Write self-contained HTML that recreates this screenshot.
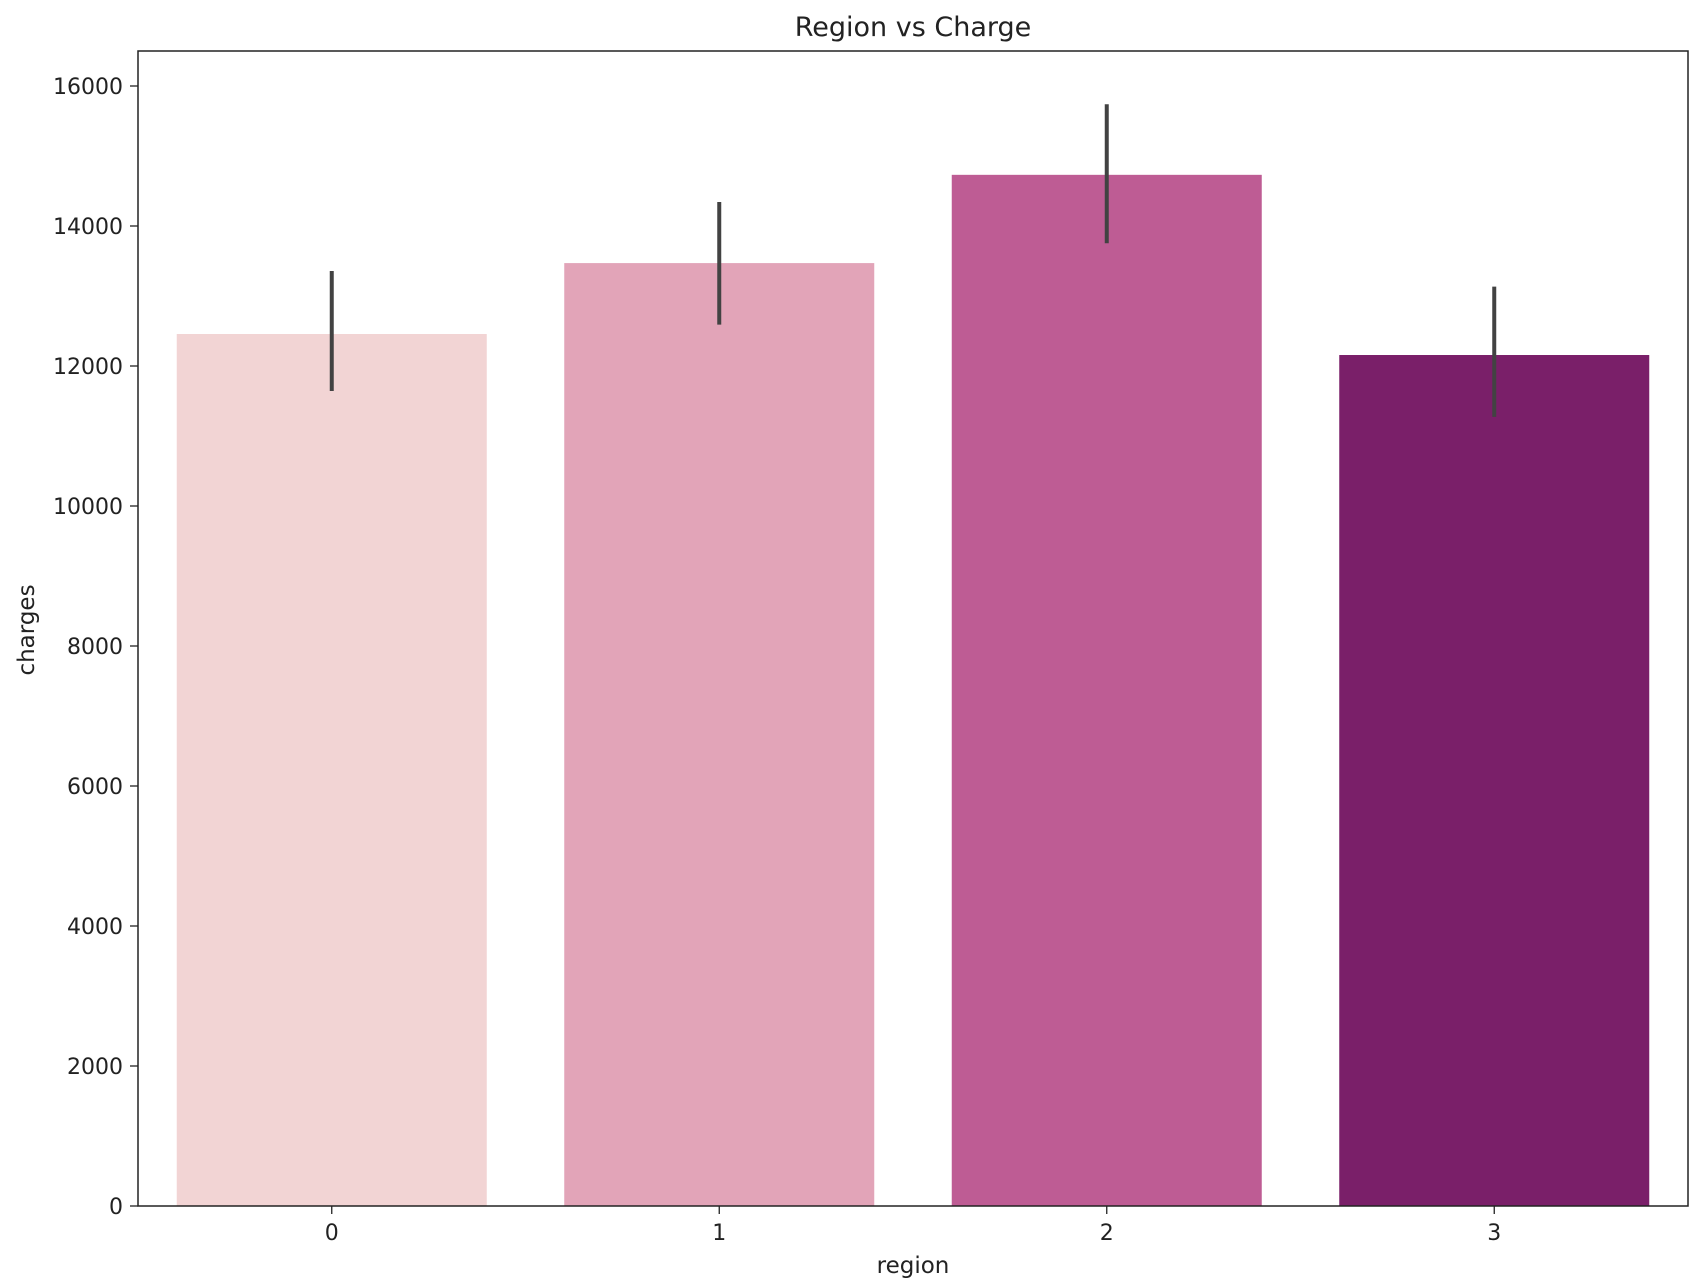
<!DOCTYPE html>
<html><head><meta charset="utf-8"><style>
body{margin:0;background:#fff}
svg{display:block;font-family:"DejaVu Sans","Liberation Sans",sans-serif}
</style></head><body>
<svg id="chart" width="1702" height="1286">
<text x="913" y="36" font-size="27" text-anchor="middle" fill="#222">Region vs Charge</text>
<g id="bars"></g>
<g id="yticks"></g>
<g id="xticks"></g>
<rect x="138" y="51" width="1550" height="1155" fill="none" stroke="#222" stroke-width="1.5"/>
<text x="913" y="1273" font-size="23" text-anchor="middle" fill="#222">region</text>
<text x="0" y="0" font-size="23" text-anchor="middle" fill="#222" transform="translate(34,630) rotate(-90)">charges</text>
</svg>
<script>
const categories=["0","1","2","3"];
const values=[12457,13470,14731,12157];
const errLow=[11643,12591,13754,11274];
const errHigh=[13357,14343,15740,13134];
const yTicks=[0,2000,4000,6000,8000,10000,12000,14000,16000];
const colors=["#f2d4d4","#e2a4b8","#be5c94","#7a1f69"];
const NS="http://www.w3.org/2000/svg";
const L=138,R=1688,Y0=1206,K=0.07;
const y=v=>Y0-v*K;
const band=(R-L)/categories.length;
const xc=i=>L+band*(i+0.5);
function mk(t,a,p){const e=document.createElementNS(NS,t);for(const k in a)e.setAttribute(k,a[k]);p.appendChild(e);return e;}
const gb=document.getElementById('bars');
categories.forEach((c,i)=>{
 const w=band*0.8;
 const r=mk('rect',{x:xc(i)-w/2,y:y(values[i]),width:w,height:Y0-y(values[i]),fill:colors[i]},gb);
 
 
 const l=mk('line',{x1:xc(i),x2:xc(i),y1:y(errLow[i]),y2:y(errHigh[i]),stroke:'#424242','stroke-width':4},gb);
 
 
});
const gy=document.getElementById('yticks');
yTicks.forEach(v=>{
 const t=mk('line',{x1:L-8,x2:L,y1:y(v),y2:y(v),stroke:'#222','stroke-width':1.3},gy);
 
 
 const tx=mk('text',{x:L-15,y:y(v)+8,'font-size':22,'text-anchor':'end',fill:'#222'},gy);
 tx.textContent=v;
 
 
});
const gx=document.getElementById('xticks');
categories.forEach((c,i)=>{
 const t=mk('line',{x1:xc(i),x2:xc(i),y1:Y0,y2:Y0+8,stroke:'#222','stroke-width':1.3},gx);
 
 
 const tx=mk('text',{x:xc(i),y:Y0+34,'font-size':22,'text-anchor':'middle',fill:'#222'},gx);
 tx.textContent=c;
 
 
});
</script>
</body></html>
